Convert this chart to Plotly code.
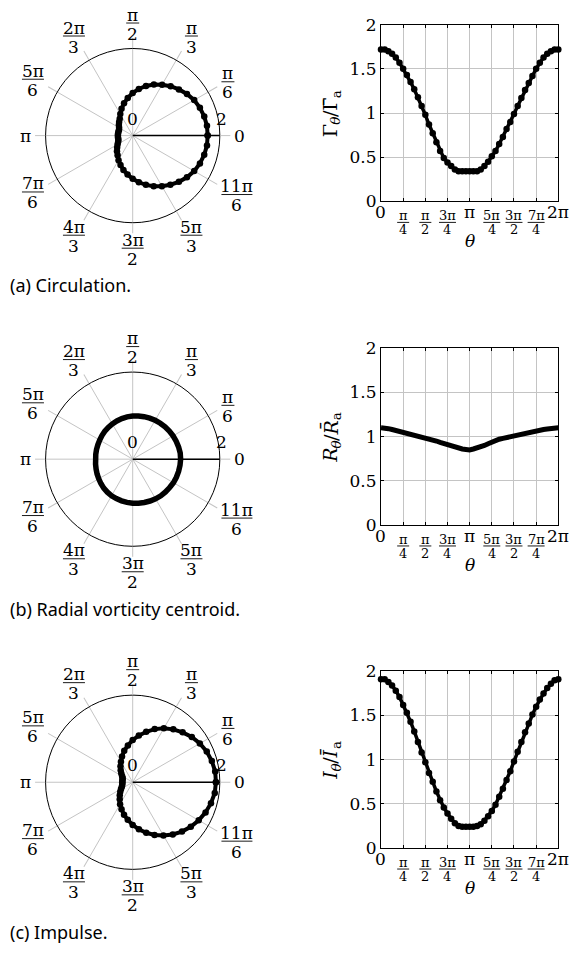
import numpy as np
import plotly.graph_objects as go

W, H = 587, 953
SERIF = "DejaVu Serif"
SANS = "Noto Sans"
GRID = "#c4c4c4"

# ---------------------------------------------------------------- data
# sampling angle, 7.5 degree steps over a full turn
theta = np.arange(49) * np.pi / 24

gamma_ratio = [1.72, 1.72, 1.70, 1.67, 1.63, 1.57, 1.50, 1.43, 1.35, 1.27,
               1.18, 1.08, 0.98, 0.87, 0.77, 0.67, 0.57, 0.49, 0.44, 0.40,
               0.36, 0.34, 0.34, 0.34, 0.34, 0.34, 0.34, 0.36, 0.40, 0.45,
               0.51, 0.57, 0.65, 0.73, 0.82, 0.90, 0.99, 1.08, 1.17, 1.26,
               1.34, 1.42, 1.50, 1.57, 1.63, 1.67, 1.70, 1.72, 1.72]

radius_ratio = [1.10, 1.10, 1.09, 1.08, 1.07, 1.06, 1.05, 1.04, 1.03, 1.02,
                1.01, 1.00, 0.99, 0.98, 0.965, 0.95, 0.935, 0.92, 0.905, 0.89,
                0.875, 0.865, 0.86, 0.855, 0.85, 0.86, 0.87, 0.885, 0.90, 0.92,
                0.94, 0.955, 0.97, 0.98, 0.99, 1.00, 1.01, 1.02, 1.03, 1.04,
                1.05, 1.06, 1.065, 1.07, 1.08, 1.085, 1.09, 1.095, 1.10]

impulse_ratio = [1.91, 1.91, 1.88, 1.84, 1.78, 1.71, 1.62, 1.53, 1.43, 1.32,
                 1.20, 1.08, 0.97, 0.85, 0.75, 0.64, 0.54, 0.46, 0.39, 0.33,
                 0.28, 0.25, 0.24, 0.24, 0.24, 0.24, 0.25, 0.27, 0.31, 0.36,
                 0.42, 0.49, 0.58, 0.67, 0.77, 0.87, 0.98, 1.09, 1.20, 1.31,
                 1.41, 1.51, 1.60, 1.68, 1.75, 1.81, 1.86, 1.90, 1.91]

y_ticks = [0, 0.5, 1, 1.5, 2]
y_tick_text = ["0", "0.5", "1", "1.5", "2"]

x_ticks = [k * np.pi / 4 for k in range(9)]
x_tick_num = ["0", "π", "π", "3π", "π", "5π", "3π", "7π", "2π"]
x_tick_den = [None, "4", "2", "4", None, "4", "2", "4", None]

polar_ticks = [k * np.pi / 6 for k in range(12)]
polar_num = ["0", "π", "π", "π", "2π", "5π", "π", "7π", "4π", "3π", "5π", "11π"]
polar_den = [None, "6", "3", "2", "3", "6", None, "6", "3", "2", "3", "6"]

radial_ticks = [0, 2]

# y titles as (text, is_subscript, width in em) pieces, read bottom to top
y_titles = [
    [("Γ", False, 0.64), ("<i>θ</i>", True, 0.58), ("/Γ̄", False, 0.98), ("a", True, 0.60)],
    [("<i>R</i>", False, 0.72), ("<i>θ</i>", True, 0.58), ("/<i>R̄</i>", False, 1.06), ("a", True, 0.60)],
    [("<i>I</i>", False, 0.42), ("<i>θ</i>", True, 0.58), ("/<i>Ī</i>", False, 0.76), ("a", True, 0.60)],
]
captions = ["(a) Circulation.", "(b) Radial vorticity centroid.", "(c) Impulse."]
series = [gamma_ratio, radius_ratio, impulse_ratio]
dotted = [True, False, True]

# ---------------------------------------------------------------- layout geometry (px)
row_shift = [0, 330.5, 660.5]
POL_CX, POL_CY, POL_R = 132.7, 128.3, 89.0
CART_L, CART_R, CART_T, CART_B = 381.0, 558.3, 15.0, 195.5
CAP_X, CAP_Y = 8.0, 281.0
FS = 17          # main math font size
FS_SMALL = 13    # tick-label fractions
FS_TITLE, FS_SUB = 19, 13.5


def px_x(x):
    return x / W


def px_y(y):
    return 1 - y / H


fig = go.Figure()
annotations = []
shapes = []


def label(text, x, y, xref, yref, size, dx=0.0, dy=0.0, family=SERIF, angle=0):
    annotations.append(dict(text=text, x=x, y=y, xref=xref, yref=yref, showarrow=False,
                            xanchor="center", yanchor="middle", xshift=dx, yshift=dy,
                            textangle=angle,
                            font=dict(family=family, size=size, color="black")))


def add_fraction(num, den, x, y, xref, yref, size, bar_w, up_n, down_d, dx=0.0, dy=0.0):
    """Stacked numerator / bar / denominator around an anchor point (pixel offsets, up positive)."""
    label(num, x, y, xref, yref, size, dx, dy + up_n)
    label(den, x, y, xref, yref, size, dx, dy - down_d)
    shapes.append(dict(type="line", xref=xref, yref=yref, xsizemode="pixel", ysizemode="pixel",
                       xanchor=x, yanchor=y, x0=dx - bar_w / 2, x1=dx + bar_w / 2, y0=dy, y1=dy,
                       line=dict(color="black", width=0.9)))


for i, vals in enumerate(series):
    sh = row_shift[i]
    n = i + 1
    pname = "polar" if n == 1 else f"polar{n}"
    xname = "x" if n == 1 else f"x{n}"
    yname = "y" if n == 1 else f"y{n}"

    # ---------------- polar panel
    cy = POL_CY + sh
    fig.add_trace(go.Scatterpolar(
        r=vals, theta=np.degrees(theta), subplot=pname,
        mode="lines+markers" if dotted[i] else "lines",
        line=dict(color="black", width=4 if dotted[i] else 5.5),
        marker=dict(color="black", size=6.5),
        showlegend=False, hoverinfo="skip"))
    fig.layout[pname] = dict(
        domain=dict(x=[px_x(POL_CX - POL_R), px_x(POL_CX + POL_R)],
                    y=[px_y(cy + POL_R), px_y(cy - POL_R)]),
        bgcolor="white",
        radialaxis=dict(range=[0, 2], tickvals=radial_ticks, showticklabels=False,
                        angle=0, showgrid=False,
                        showline=True, linecolor="black", linewidth=1.5, ticks=""),
        angularaxis=dict(tickvals=[np.degrees(a) for a in polar_ticks],
                         showticklabels=False, ticks="outside", ticklen=10,
                         tickcolor=GRID, tickwidth=1,
                         showgrid=True, gridcolor=GRID, gridwidth=1,
                         showline=True, linecolor="black", linewidth=1,
                         direction="counterclockwise", rotation=0))

    # radial tick labels sit just above the radial axis line
    for rv in radial_ticks:
        lx = POL_CX + rv / 2 * POL_R
        label(str(rv), px_x(lx), px_y(cy), "paper", "paper", FS, dy=17)

    # angular labels placed just outside the tick marks
    for a, num, den in zip(polar_ticks, polar_num, polar_den):
        c, s = np.cos(a), np.sin(a)
        if den:
            bar_w = {1: 13, 2: 22, 3: 31}[len(num)]
            hw, hh = bar_w / 2 + 3, 16
        else:
            bar_w = 0
            hw, hh = 5 + 3, 9
        ext = min(hw / abs(c) if abs(c) > 1e-9 else 1e9,
                  hh / abs(s) if abs(s) > 1e-9 else 1e9)
        d = POL_R + 10 + ext
        lx, ly = POL_CX + d * c, cy - d * s
        if den:
            add_fraction(num, den, px_x(lx), px_y(ly), "paper", "paper", FS, bar_w, 8.5, 10.5)
        else:
            label(num, px_x(lx), px_y(ly), "paper", "paper", FS)

    # ---------------- cartesian panel
    top, bot = CART_T + sh, CART_B + sh
    fig.add_trace(go.Scatter(
        x=theta, y=vals, xaxis=xname, yaxis=yname,
        mode="lines+markers" if dotted[i] else "lines",
        line=dict(color="black", width=3.5 if dotted[i] else 5),
        marker=dict(color="black", size=6.5),
        showlegend=False, hoverinfo="skip", cliponaxis=False))
    xa = "xaxis" if n == 1 else f"xaxis{n}"
    ya = "yaxis" if n == 1 else f"yaxis{n}"
    fig.layout[xa] = dict(
        domain=[px_x(CART_L), px_x(CART_R)], range=[0, 2 * np.pi], anchor=yname,
        tickvals=x_ticks, showticklabels=False,
        showgrid=True, gridcolor=GRID, gridwidth=1, zeroline=False,
        showline=True, linecolor="black", linewidth=1, mirror="ticks",
        ticks="inside", ticklen=3, tickcolor="black")
    fig.layout[ya] = dict(
        domain=[px_y(bot), px_y(top)], range=[0, 2], anchor=xname,
        tickvals=y_ticks, ticktext=y_tick_text,
        tickfont=dict(family=SERIF, size=FS, color="black"),
        showgrid=True, gridcolor=GRID, gridwidth=1, zeroline=False,
        showline=True, linecolor="black", linewidth=1, mirror="ticks",
        ticks="inside", ticklen=3, tickcolor="black")

    for xv, num, den in zip(x_ticks, x_tick_num, x_tick_den):
        if den:
            bar_w = 12 if len(num) == 1 else 17
            add_fraction(num, den, xv, px_y(bot), xname, "paper", FS_SMALL, bar_w, 6.5, 7.5, dy=-21)
        else:
            label(num, xv, px_y(bot), xname, "paper", FS, dy=-11)

    # rotated y title assembled from main-size and subscript pieces
    pieces = y_titles[i]
    widths = [w * (FS_SUB if sub else FS_TITLE) for _, sub, w in pieces]
    pos = -sum(widths) / 2
    for (txt, sub, _), w in zip(pieces, widths):
        label(txt, px_x(CART_L), px_y((top + bot) / 2), "paper", "paper",
              FS_SUB if sub else FS_TITLE, dx=-51 + (5.5 if sub else 0), dy=pos + w / 2,
              angle=-90)
        pos += w
    label("<i>θ</i>", px_x((CART_L + CART_R) / 2), px_y(bot), "paper", "paper", FS, dy=-40)

    # panel caption
    annotations.append(dict(text=captions[i], x=px_x(CAP_X), y=px_y(CAP_Y + sh),
                            xref="paper", yref="paper", showarrow=False,
                            xanchor="left", yanchor="middle",
                            font=dict(family=SANS, size=18, color="black")))

fig.update_layout(width=W, height=H, margin=dict(l=0, r=0, t=0, b=0),
                  paper_bgcolor="white", plot_bgcolor="white",
                  annotations=annotations, shapes=shapes, showlegend=False)

fig.write_html("out.html")
